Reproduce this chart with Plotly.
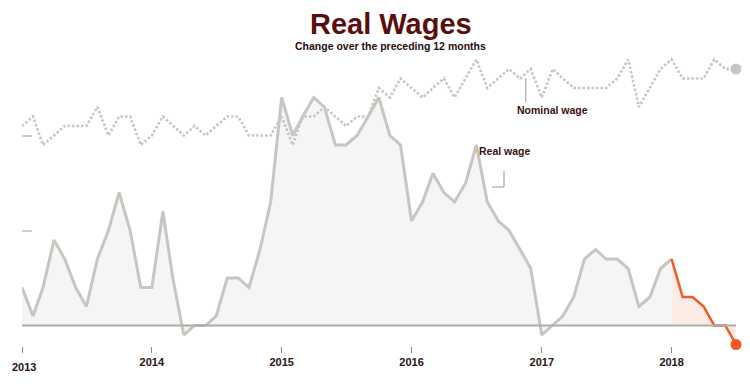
import plotly.graph_objects as go
import pandas as pd

# ---------------- data ----------------
months = pd.date_range("2013-01-01", "2018-07-01", freq="MS")

real_wage = [0.4, 0.1, 0.4, 0.9, 0.7, 0.4, 0.2, 0.7, 1.0, 1.4, 1.0, 0.4,
             0.4, 1.2, 0.5, -0.1, 0.0, 0.0, 0.1, 0.5, 0.5, 0.4, 0.8, 1.3,
             2.4, 2.0, 2.2, 2.4, 2.3, 1.9, 1.9, 2.0, 2.2, 2.4, 2.0, 1.9,
             1.1, 1.3, 1.6, 1.4, 1.3, 1.5, 1.9, 1.3, 1.1, 1.0, 0.8, 0.6,
             -0.1, 0.0, 0.1, 0.3, 0.7, 0.8, 0.7, 0.7, 0.6, 0.2, 0.3, 0.6,
             0.7, 0.3, 0.3, 0.2, 0.0, 0.0, -0.2]

nominal_wage = [2.1, 2.2, 1.9, 2.0, 2.1, 2.1, 2.1, 2.3, 2.0, 2.2, 2.2, 1.9,
                2.0, 2.2, 2.1, 2.0, 2.1, 2.0, 2.1, 2.2, 2.2, 2.0, 2.0, 2.0,
                2.2, 1.9, 2.2, 2.2, 2.3, 2.2, 2.1, 2.2, 2.2, 2.5, 2.4, 2.6,
                2.5, 2.4, 2.5, 2.6, 2.4, 2.6, 2.8, 2.5, 2.6, 2.7, 2.6, 2.7,
                2.4, 2.7, 2.6, 2.5, 2.5, 2.5, 2.5, 2.6, 2.8, 2.3, 2.5, 2.7,
                2.8, 2.6, 2.6, 2.6, 2.8, 2.7, 2.7]

year_ticks = ["2013-01-01", "2014-01-01", "2015-01-01", "2016-01-01",
              "2017-01-01", "2018-01-01"]
year_labels = ["2013", "2014", "2015", "2016", "2017", "2018"]

split = 60  # Jan 2018: start of highlighted segment

# ---------------- style ----------------
W, H = 750, 390
L, R, T, B = 22, 14, 30, 44
GREY = "#c9c6c1"
DOT = "#c8c6c4"
ORANGE = "#f05a24"
TEXT = "#3a0f0f"
FONT = "Liberation Sans, Arial, sans-serif"


def px(x):
    return (x - L) / (W - L - R)


def py(y):
    return (H - B - y) / (H - T - B)


fig = go.Figure()

# fills
fig.add_trace(go.Scatter(x=months[:split + 1], y=real_wage[:split + 1], mode="lines",
                         line=dict(width=0), fill="tozeroy", fillcolor="#f5f5f5",
                         hoverinfo="skip", showlegend=False))
fig.add_trace(go.Scatter(x=months[split:], y=real_wage[split:], mode="lines",
                         line=dict(width=0), fill="tozeroy", fillcolor="#fdebe6",
                         hoverinfo="skip", showlegend=False))
# nominal wage dotted
fig.add_trace(go.Scatter(x=months, y=nominal_wage, mode="lines",
                         line=dict(color=DOT, width=2.6, dash="2.5px,2px"),
                         showlegend=False))
# real wage lines
fig.add_trace(go.Scatter(x=months[:split + 1], y=real_wage[:split + 1], mode="lines",
                         line=dict(color=GREY, width=3), showlegend=False))
fig.add_trace(go.Scatter(x=months[split:], y=real_wage[split:], mode="lines",
                         line=dict(color=ORANGE, width=2.5), showlegend=False))
# end markers
fig.add_trace(go.Scatter(x=[months[-1]], y=[nominal_wage[-1]], mode="markers",
                         marker=dict(size=11, color=DOT), cliponaxis=False,
                         showlegend=False))
fig.add_trace(go.Scatter(x=[months[-1]], y=[real_wage[-1]], mode="markers",
                         marker=dict(size=11, color=ORANGE), cliponaxis=False,
                         showlegend=False))

shapes = [
    dict(type="line", xref="paper", yref="y", x0=0, x1=1, y0=0, y1=0,
         line=dict(color="#b0aca8", width=2), layer="above"),
    dict(type="line", xref="paper", yref="paper", x0=px(525.7), x1=px(525.7),
         y0=py(78), y1=py(102), line=dict(color="#bdb9b4", width=1.5)),
    dict(type="line", xref="paper", yref="paper", x0=px(504), x1=px(504),
         y0=py(171), y1=py(187), line=dict(color="#bdb9b4", width=1.5)),
    dict(type="line", xref="paper", yref="paper", x0=px(504), x1=px(492),
         y0=py(187), y1=py(187), line=dict(color="#bdb9b4", width=1.5)),
]

annotations = [
    dict(text="Real Wages", xref="paper", yref="paper", x=px(391), y=py(24),
         xanchor="center", yanchor="middle", showarrow=False,
         font=dict(family=FONT, size=29, color="#5b0e0e", weight="bold")),
    dict(text="Change over the preceding 12 months", xref="paper", yref="paper",
         x=px(390.5), y=py(46), xanchor="center", yanchor="middle", showarrow=False,
         font=dict(family=FONT, size=10.5, color="#2a0c0c", weight="bold")),
    dict(text="Nominal wage", xref="paper", yref="paper", x=px(515), y=py(110),
         xanchor="left", yanchor="middle", showarrow=False,
         font=dict(family=FONT, size=10.5, color=TEXT, weight="bold")),
    dict(text="Real wage", xref="paper", yref="paper", x=px(477), y=py(151),
         xanchor="left", yanchor="middle", showarrow=False,
         font=dict(family=FONT, size=10.5, color=TEXT, weight="bold")),
    dict(text=year_labels[0], xref="paper", yref="paper", x=px(24), y=py(367),
         xanchor="center", yanchor="middle", showarrow=False,
         font=dict(family=FONT, size=11, color="#2b1212", weight="bold")),
]

fig.update_layout(
    width=W, height=H,
    margin=dict(l=L, r=R, t=T, b=B),
    paper_bgcolor="white", plot_bgcolor="white",
    shapes=shapes, annotations=annotations,
    showlegend=False,
    hovermode=False,
    xaxis=dict(range=[months[0], months[-1]], tickvals=year_ticks,
               ticktext=[""] + year_labels[1:], ticks="outside", ticklen=6,
               tickcolor="#888", tickwidth=1, showgrid=False, zeroline=False,
               showline=False,
               tickfont=dict(family=FONT, size=11, color="#2b1212", weight="bold")),
    yaxis=dict(range=[-0.2158, 3.1105], tickvals=[1, 2], ticks="inside",
               ticklen=10, tickcolor="#d0cdca", tickwidth=1.5,
               showticklabels=False, showgrid=False, zeroline=False,
               showline=False),
)

fig.write_html("out.html",
               config={"displayModeBar": False},
               post_script="document.body.style.margin='0';"
                           "document.body.style.overflow='hidden';")
